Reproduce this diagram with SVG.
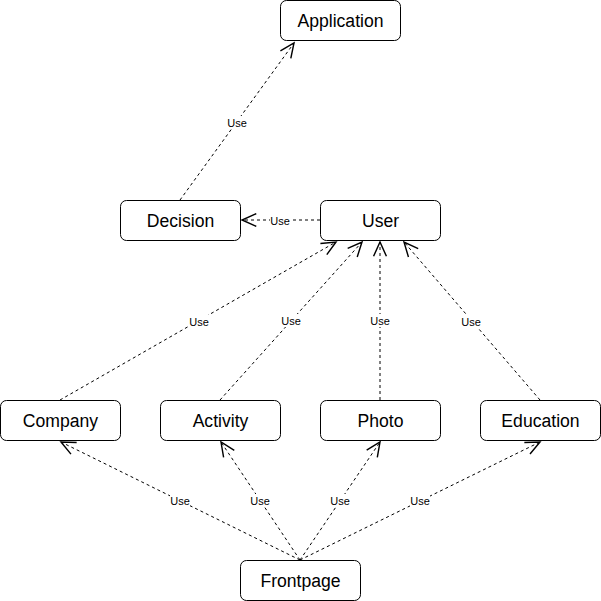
<svg xmlns="http://www.w3.org/2000/svg" width="601" height="601" viewBox="0 0 601 601">
<style>
.node rect{fill:#fff;stroke:#000;stroke-width:1}
.node text{font-family:"Liberation Sans",Arial,sans-serif;font-size:17.6px;fill:#000;text-anchor:middle}
.edge{fill:none;stroke:#000;stroke-width:1;stroke-dasharray:3 3}
.lbl rect{fill:#fff}
.lbl text{font-family:"Liberation Sans",Arial,sans-serif;font-size:11px;fill:#000;text-anchor:middle;dominant-baseline:central}
</style>
<defs>
<marker id="open" markerUnits="userSpaceOnUse" markerWidth="20" markerHeight="20" viewBox="-12 -7 14 14" refX="0" refY="0" orient="auto">
<path d="M-10,-4.5 L0,0 L-10,4.5" fill="none" stroke="#000" stroke-width="1"/>
</marker>
</defs>
<rect width="601" height="601" fill="#fff"/>
<g id="connectors">
<path class="edge" d="M180,200 L294,43" marker-end="url(#open)"/>
<path class="edge" d="M320,220 L242,220" marker-end="url(#open)"/>
<path class="edge" d="M60,400 L336,242" marker-end="url(#open)"/>
<path class="edge" d="M220,400 L362,242" marker-end="url(#open)"/>
<path class="edge" d="M380,400 L380,242" marker-end="url(#open)"/>
<path class="edge" d="M540,400 L404,242" marker-end="url(#open)"/>
<path class="edge" d="M300,560 L61,442" marker-end="url(#open)"/>
<path class="edge" d="M300,560 L221,442" marker-end="url(#open)"/>
<path class="edge" d="M300,560 L380,442" marker-end="url(#open)"/>
<path class="edge" d="M300,560 L540,442" marker-end="url(#open)"/>
<g class="lbl">
<rect x="227" y="116" width="20" height="13"/><text x="237" y="123">Use</text>
<rect x="270" y="214" width="20" height="13"/><text x="280" y="221">Use</text>
<rect x="189" y="315" width="20" height="13"/><text x="199" y="322">Use</text>
<rect x="281" y="314" width="20" height="13"/><text x="291" y="321">Use</text>
<rect x="370" y="314" width="20" height="13"/><text x="380" y="321">Use</text>
<rect x="461" y="315" width="20" height="13"/><text x="471" y="322">Use</text>
<rect x="170" y="494" width="20" height="13"/><text x="180" y="501">Use</text>
<rect x="250" y="494" width="20" height="13"/><text x="260" y="501">Use</text>
<rect x="330" y="494" width="20" height="13"/><text x="340" y="501">Use</text>
<rect x="410" y="494" width="20" height="13"/><text x="420" y="501">Use</text>
</g>
</g>
<g id="application" class="node"><rect x="280.5" y="0.5" width="120" height="40" rx="6"/><text x="340.5" y="26.7">Application</text></g>
<g id="decision" class="node"><rect x="120.5" y="200.5" width="120" height="40" rx="6"/><text x="180.5" y="226.7">Decision</text></g>
<g id="user" class="node"><rect x="320.5" y="200.5" width="120" height="40" rx="6"/><text x="380.5" y="226.7">User</text></g>
<g id="company" class="node"><rect x="0.5" y="400.5" width="120" height="40" rx="6"/><text x="60.5" y="426.7">Company</text></g>
<g id="activity" class="node"><rect x="160.5" y="400.5" width="120" height="40" rx="6"/><text x="220.5" y="426.7">Activity</text></g>
<g id="photo" class="node"><rect x="320.5" y="400.5" width="120" height="40" rx="6"/><text x="380.5" y="426.7">Photo</text></g>
<g id="education" class="node"><rect x="480.5" y="400.5" width="120" height="40" rx="6"/><text x="540.5" y="426.7">Education</text></g>
<g id="frontpage" class="node"><rect x="240.5" y="560.5" width="120" height="40" rx="6"/><text x="300.5" y="586.7">Frontpage</text></g>
</svg>
